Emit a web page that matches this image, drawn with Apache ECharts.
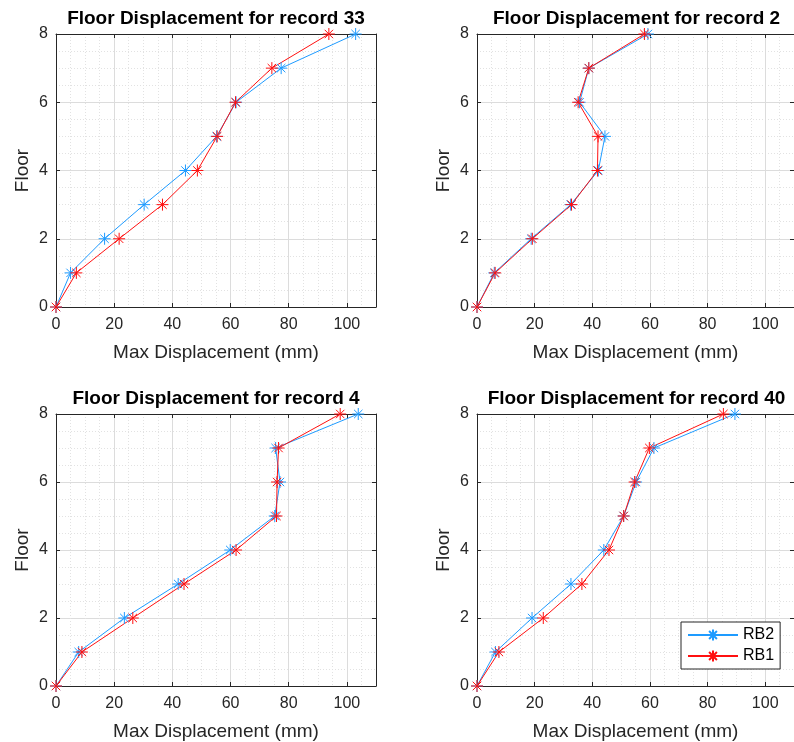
<!DOCTYPE html>
<html>
<head>
<meta charset="utf-8">
<script src="https://cdn.jsdelivr.net/npm/echarts@6/dist/echarts.min.js"></script>
<style>html,body{margin:0;padding:0;background:#fff;}#chart{width:794px;height:742px;}</style>
</head>
<body>
<div id="chart"></div>
<script>
// ---- data ----
const floors = [0, 1, 2, 3, 4, 5, 6, 7, 8];
const recordTitles = ['Floor Displacement for record 33', 'Floor Displacement for record 2',
                      'Floor Displacement for record 4', 'Floor Displacement for record 40'];
const seriesNames = ['RB2', 'RB1'];
const xTicks = [0, 20, 40, 60, 80, 100];
const yTicks = [0, 2, 4, 6, 8];
// record 33
const rb2_rec33 = [0, 5.0, 16.7, 30.3, 44.5, 55.2, 61.9, 77.4, 103.0];
const rb1_rec33 = [0, 7.0, 21.7, 36.6, 48.6, 55.4, 61.7, 74.2, 93.8];
// record 2
const rb2_rec2 = [0, 6.0, 18.8, 32.5, 42.1, 44.4, 35.6, 38.8, 59.3];
const rb1_rec2 = [0, 6.3, 19.2, 32.8, 41.8, 42.0, 35.1, 38.8, 58.1];
// record 4
const rb2_rec4 = [0, 7.8, 23.5, 42.0, 59.9, 75.2, 77.0, 75.5, 103.9];
const rb1_rec4 = [0, 8.9, 26.4, 44.0, 61.9, 75.8, 76.0, 76.5, 97.7];
// record 40
const rb2_rec40 = [0, 6.4, 19.1, 32.6, 44.0, 50.9, 55.2, 61.4, 89.5];
const rb1_rec40 = [0, 7.6, 23.0, 36.4, 45.8, 50.9, 54.7, 59.8, 85.5];

const panels = [
  { title: recordTitles[0], rb2: rb2_rec33, rb1: rb1_rec33 },
  { title: recordTitles[1], rb2: rb2_rec2, rb1: rb1_rec2 },
  { title: recordTitles[2], rb2: rb2_rec4, rb1: rb1_rec4 },
  { title: recordTitles[3], rb2: rb2_rec40, rb1: rb1_rec40 }
];

// ---- styles / layout ----
const BLUE = '#1e9bff';
const RED = '#ff1010';
const DARK = '#262626';
const FONT = '"Liberation Sans", Arial, Helvetica, sans-serif';
const grids = [
  { left: 56, top: 34, width: 320, height: 273 },
  { left: 477, top: 34, width: 319, height: 273 },
  { left: 56, top: 414, width: 320, height: 273 },
  { left: 477, top: 414, width: 319, height: 273 }
];
const asterisk = 'path://M0,-1L0,1M-1,0L1,0M-0.7,-0.7L0.7,0.7M-0.7,0.7L0.7,-0.7';

const xAxes = [], yAxes = [], series = [], graphics = [];
grids.forEach((g, i) => {
  // minor dotted vertical grid
  xAxes.push({
    type: 'value', gridIndex: i, min: 0, max: 110, interval: 5, position: 'bottom',
    axisLine: { show: false }, axisTick: { show: false }, axisLabel: { show: false },
    splitLine: { show: true, showMinLine: false, showMaxLine: false,
                 lineStyle: { color: '#e2e2e2', type: [1, 2], width: 1 } }
  });
  // primary bottom axis
  xAxes.push({
    type: 'value', gridIndex: i, min: 0, max: 110, interval: 20, position: 'bottom',
    name: 'Max Displacement (mm)', nameLocation: 'middle', nameGap: 36,
    nameTextStyle: { fontSize: 19, color: DARK, fontFamily: FONT },
    axisLine: { show: true, onZero: false, lineStyle: { color: DARK, width: 1 } },
    axisTick: { show: true, inside: true, length: 4, lineStyle: { color: DARK } },
    axisLabel: { color: DARK, fontSize: 16, fontFamily: FONT, margin: 10, showMaxLabel: false,
                 formatter: v => (xTicks.indexOf(v) >= 0 ? String(v) : '') },
    splitLine: { show: true, showMinLine: false, showMaxLine: false,
                 lineStyle: { color: '#dcdcdc', width: 1 } }
  });
  // top axis (box)
  xAxes.push({
    type: 'value', gridIndex: i, min: 0, max: 110, interval: 20, position: 'top',
    axisLine: { show: true, onZero: false, lineStyle: { color: DARK, width: 1 } },
    axisTick: { show: true, inside: true, length: 4, lineStyle: { color: DARK } },
    axisLabel: { show: false }, splitLine: { show: false }
  });
  // left y axis
  yAxes.push({
    type: 'value', gridIndex: i, min: 0, max: 8, interval: 2, position: 'left',
    name: 'Floor', nameLocation: 'middle', nameGap: 24, nameRotate: 90,
    nameTextStyle: { fontSize: 19, color: DARK, fontFamily: FONT },
    axisLine: { show: true, onZero: false, lineStyle: { color: DARK, width: 1 } },
    axisTick: { show: true, inside: true, length: 4, lineStyle: { color: DARK } },
    axisLabel: { color: DARK, fontSize: 16, fontFamily: FONT, margin: 8,
                 formatter: v => (yTicks.indexOf(v) >= 0 ? String(v) : '') },
    splitLine: { show: true, showMinLine: false, showMaxLine: false,
                 lineStyle: { color: '#dcdcdc', width: 1 } },
    minorTick: { show: false, splitNumber: 4 },
    minorSplitLine: { show: true, lineStyle: { color: '#e2e2e2', type: [1, 2], width: 1 } }
  });
  // right y axis (box)
  yAxes.push({
    type: 'value', gridIndex: i, min: 0, max: 8, interval: 2, position: 'right',
    axisLine: { show: true, onZero: false, lineStyle: { color: DARK, width: 1 } },
    axisTick: { show: true, inside: true, length: 4, lineStyle: { color: DARK } },
    axisLabel: { show: false }, splitLine: { show: false }
  });

  const p = panels[i];
  [[seriesNames[0], p.rb2, BLUE], [seriesNames[1], p.rb1, RED]].forEach(([name, vals, col]) => {
    series.push({
      name: name, type: 'line', xAxisIndex: 3 * i + 1, yAxisIndex: 2 * i,
      data: vals.map((v, k) => [v, floors[k]]),
      symbol: asterisk, symbolSize: 12, symbolKeepAspect: true, clip: false,
      lineStyle: { color: col, width: 1 },
      itemStyle: { color: 'rgba(0,0,0,0)', borderColor: col, borderWidth: 1 },
      emphasis: { disabled: true }, animation: false
    });
  });

  graphics.push({
    type: 'text', x: g.left + g.width / 2, y: g.top - 25,
    style: { text: p.title, fill: '#000', font: 'bold 19px ' + FONT, textAlign: 'center', textVerticalAlign: 'top' }
  });
});

const chart = echarts.init(document.getElementById('chart'), null, { renderer: 'canvas' });
chart.setOption({
  backgroundColor: '#ffffff',
  animation: false,
  grid: grids.map(g => Object.assign({ containLabel: false }, g)),
  xAxis: xAxes,
  yAxis: yAxes,
  series: series,
  legend: {
    data: seriesNames, orient: 'vertical', left: 681, top: 622,
    backgroundColor: '#ffffff', borderColor: DARK, borderWidth: 1, borderRadius: 0,
    padding: [5, 6, 5, 6], itemWidth: 50, itemHeight: 14, itemGap: 5,
    textStyle: { fontSize: 16, color: '#000', fontFamily: FONT }
  },
  graphic: graphics
});
</script>
</body>
</html>
